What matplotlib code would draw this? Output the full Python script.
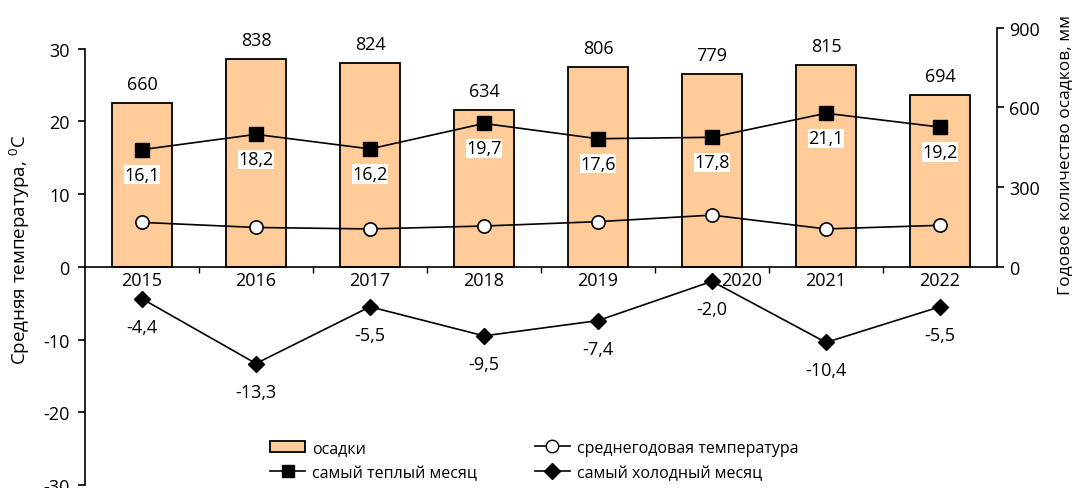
import matplotlib
matplotlib.use("Agg")
import matplotlib.pyplot as plt
import matplotlib.transforms as mtransforms
from matplotlib.patches import Patch
from matplotlib.lines import Line2D

plt.rcParams['font.family'] = ['Open Sans', 'DejaVu Sans']
plt.rcParams['font.size'] = 13
plt.rcParams['mathtext.default'] = 'regular'
plt.rcParams['axes.unicode_minus'] = False

# данные
years = ['2015', '2016', '2017', '2018', '2019', '2020', '2021', '2022']
osadki = [660, 838, 824, 634, 806, 779, 815, 694]
t_warm = [16.1, 18.2, 16.2, 19.7, 17.6, 17.8, 21.1, 19.2]
t_mean = [6.1, 5.4, 5.2, 5.6, 6.2, 7.1, 5.2, 5.7]
t_cold = [-4.4, -13.3, -5.5, -9.5, -7.4, -2.0, -10.4, -5.5]

x = list(range(len(years)))

def fmt(v):
    return f"{v:.1f}".replace('.', ',')

fig = plt.figure(figsize=(10.76, 4.89), dpi=100)
ax = fig.add_axes([85 / 1076, 3 / 489, 912 / 1076, 458.3 / 489])
ax_mm = ax.twinx()    # правая шкала (только подписи)
ax_bar = ax.twinx()   # столбики осадков

ax_bar.set_zorder(0)
ax_mm.set_zorder(1)
ax.set_zorder(2)
ax.patch.set_visible(False)
ax_mm.patch.set_visible(False)

# столбики
bars = ax_bar.bar(x, osadki, width=0.53, color='#FFCC99', edgecolor='black',
                  linewidth=1.3)
ax_bar.set_ylim(-881, 969)
ax_bar.axis('off')
for xi, v in zip(x, osadki):
    ax_bar.annotate(str(v), (xi, v), xytext=(0, 19), textcoords='offset pixels',
                    ha='center', va='center', fontsize=13)

# линии температуры
ax.plot(x, t_warm, color='black', lw=1.2, marker='s', ms=9.5,
        mfc='black', mec='black')
ax.plot(x, t_mean, color='black', lw=1.2, marker='o', ms=9.5,
        mfc='white', mec='black', mew=1.2)
ax.plot(x, t_cold, color='black', lw=1.2, marker='D', ms=8.5,
        mfc='black', mec='black')

for xi, v in zip(x, t_warm):
    ax.annotate(fmt(v), (xi, v), xytext=(0, -25), textcoords='offset pixels',
                ha='center', va='center', fontsize=13,
                bbox=dict(facecolor='white', edgecolor='none', pad=0.5))
for xi, v in zip(x, t_cold):
    ax.annotate(fmt(v), (xi, v), xytext=(0, -28), textcoords='offset pixels',
                ha='center', va='center', fontsize=13)

# оси
ax.set_xlim(-0.5, len(years) - 0.5)
ax.set_ylim(-30, 33)
ax.set_yticks([-30, -20, -10, 0, 10, 20, 30])
ax.spines['left'].set_bounds(-30, 30)
ax.spines['top'].set_visible(False)
ax.spines['right'].set_visible(False)
ax.spines['bottom'].set_position(('data', 0))
for s in ax.spines.values():
    s.set_linewidth(1.2)

ax.set_xticks([i + 0.5 for i in x[:-1]], [''] * (len(x) - 1))
ax.set_xticks(x, years, minor=True)
ax.tick_params(axis='x', which='major', direction='out', length=4, width=1)
ax.tick_params(axis='x', which='minor', length=0, pad=3, labelsize=13)
ax.tick_params(axis='y', direction='out', length=5, width=1.2, pad=6,
               labelsize=13)
# подпись 2020 сдвинута вправо, чтобы не закрывать маркер
lbl = ax.xaxis.get_minorticklabels()[5]
lbl.set_transform(lbl.get_transform() +
                  mtransforms.ScaledTranslation(0.3, 0, fig.dpi_scale_trans))

ax.set_ylabel('Средняя температура, $^{0}$C', fontsize=13.5)
ax.yaxis.set_label_coords(-0.058, 0.515)

ax_mm.set_ylim(-822, 904)
ax_mm.set_yticks([0, 300, 600, 900])
ax_mm.spines['right'].set_bounds(0, 900)
ax_mm.spines['right'].set_linewidth(1.2)
for s in ['top', 'left', 'bottom']:
    ax_mm.spines[s].set_visible(False)
ax_mm.tick_params(axis='y', direction='out', length=5, width=1.2, pad=4,
                  labelsize=13)
ax_mm.set_ylabel('Годовое количество осадков, мм', fontsize=12.5)
ax_mm.yaxis.set_label_coords(1.066, 0.722)

handles = [
    Patch(facecolor='#FFCC99', edgecolor='black', linewidth=1.3),
    Line2D([], [], color='black', lw=1.2, marker='s', ms=9, mfc='black'),
    Line2D([], [], color='black', lw=1.2, marker='o', ms=9, mfc='white'),
    Line2D([], [], color='black', lw=1.2, marker='D', ms=8, mfc='black'),
]
labels = ['осадки', 'самый теплый месяц', 'среднегодовая температура',
          'самый холодный месяц']
leg = ax.legend(handles, labels, ncol=2, frameon=False, fontsize=11.5,
                loc='upper left', bbox_to_anchor=(270 / 1076, 1 - 441 / 489),
                bbox_transform=fig.transFigure, borderpad=0, borderaxespad=0,
                handlelength=2.2, handletextpad=0.45, columnspacing=3.6,
                labelspacing=0.55)

fig.savefig('out.png', dpi=100)
